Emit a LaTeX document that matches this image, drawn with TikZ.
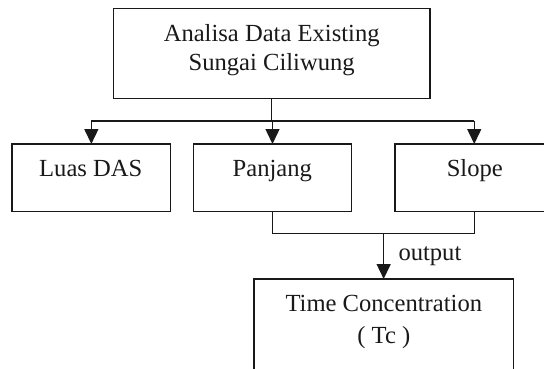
\documentclass[tikz,border=0pt]{standalone}
\usepackage{fontspec}
\setmainfont{Liberation Serif}
\usetikzlibrary{arrows.meta}
\begin{document}
\begin{tikzpicture}[x=1pt, y=-1pt,
  line/.style={draw=black!90, line width=1.5pt},
  arr/.style={line, -{Triangle[length=15pt,width=14pt]}},
  frame/.style={line, rectangle, inner sep=0pt, outer sep=0pt, anchor=north west},
  lbl/.style={font=\fontsize{24.6pt}{29.4pt}\selectfont, inner sep=0pt, anchor=base, text=black!90}]

  % canvas: the outer boxes run past the right and bottom edges
  \useasboundingbox (0,0) rectangle (544,369);
  \clip (0,0) rectangle (544,369);

  % boxes
  \node[frame, minimum width=316.7pt, minimum height=90pt]  (top)     at (113.3,8.3) {};
  \node[frame, minimum width=158.7pt, minimum height=67.5pt] (luas)    at (12,144) {};
  \node[frame, minimum width=158.4pt, minimum height=67.5pt] (panjang) at (193.3,144) {};
  \node[frame, minimum width=158.5pt, minimum height=67.5pt] (slope)   at (395,144) {};
  \node[frame, minimum width=259.3pt, minimum height=120pt]  (tc)      at (254,279) {};

  % box texts
  \node[lbl] (topA) at (271.7,41.7) {Analisa Data Existing};
  \node[lbl] (topB) at (271.7,71)   {Sungai Ciliwung};
  \node[lbl] (luasT)    at (90.8,176.7)  {Luas DAS};
  \node[lbl] (panjangT) at (272.3,176.7) {Panjang};
  \node[lbl] (slopeT)   at (474.8,176.7) {Slope};
  \node[lbl] (tcA) at (383.8,311.7) {Time Concentration};
  \node[lbl] (tcB) at (383.8,343)   {( Tc )};
  \node[lbl, anchor=base west] (outT) at (398.3,260) {output};

  % distribution from the data analysis box
  \coordinate (bus) at (0,121);
  \coordinate (join) at (0,233.5);
  \draw[line] (top.south) -- (top.south |- bus);
  \draw[line] (luas.north |- bus) -- (slope.north |- bus);
  \draw[arr] (luas.north |- bus) -- (luas.north);
  \draw[arr] (panjang.north |- bus) -- (panjang.north);
  \draw[arr] (slope.north |- bus) -- (slope.north);

  % collection into the time of concentration
  \draw[line] (panjang.south) -- (panjang.south |- join) -- (slope.south |- join) -- (slope.south);
  \draw[arr] (tc.north |- join) -- (tc.north);
\end{tikzpicture}
\end{document}
